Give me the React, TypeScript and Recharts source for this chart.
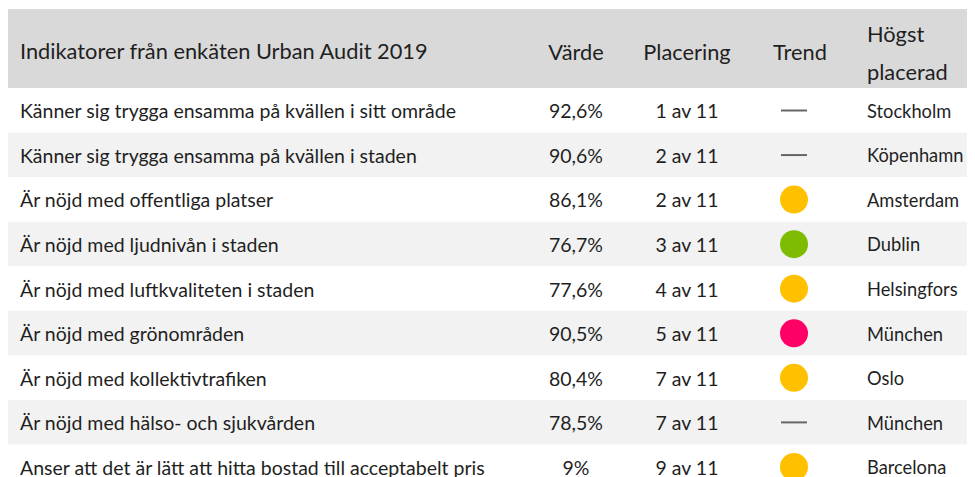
import React from 'react';
import { BarChart, Bar, XAxis, YAxis, Cell } from 'recharts';

const indikatorer = [
  'Känner sig trygga ensamma på kvällen i sitt område',
  'Känner sig trygga ensamma på kvällen i staden',
  'Är nöjd med offentliga platser',
  'Är nöjd med ljudnivån i staden',
  'Är nöjd med luftkvaliteten i staden',
  'Är nöjd med grönområden',
  'Är nöjd med kollektivtrafiken',
  'Är nöjd med hälso- och sjukvården',
  'Anser att det är lätt att hitta bostad till acceptabelt pris',
];
const varden = [92.6, 90.6, 86.1, 76.7, 77.6, 90.5, 80.4, 78.5, 9];
const placeringar = [1, 2, 2, 3, 4, 5, 7, 7, 9];
const antalStader = 11;
const trender = ['oforandrad', 'oforandrad', 'gul', 'gron', 'gul', 'rod', 'gul', 'oforandrad', 'gul'];
const hogstPlacerad = ['Stockholm', 'Köpenhamn', 'Amsterdam', 'Dublin', 'Helsingfors', 'München', 'Oslo', 'München', 'Barcelona'];

const rubriker = ['Indikatorer från enkäten Urban Audit 2019', 'Värde', 'Placering', 'Trend', 'Högst', 'placerad'];

const trendFarg: Record<string, string> = {
  gul: '#ffc000',
  gron: '#7dbc00',
  rod: '#ff0066',
};

const data = indikatorer.map((indikator, i) => ({
  indikator,
  varde: varden[i],
  placering: placeringar[i],
  trend: trender[i],
  hogst: hogstPlacerad[i],
}));

const FONT = 'Lato, "Noto Sans", sans-serif';
const TEXT = '#1f1f1f';
const COL = { namn: 12, varde: 568, placering: 679, trend: 786, hogst: 859 };

const formatVarde = (v: number) => String(v).replace('.', ',') + '%';

const RowShape = (props: any) => {
  const { x, y, width, height, payload, index } = props;
  const cy = y + height / 2;
  const fs = 19.5;
  const dy = '0.4em';
  return (
    <g>
      <rect x={x} y={y} width={width} height={height} fill={index % 2 === 0 ? '#ffffff' : '#f2f2f2'} />
      <text x={COL.namn} y={cy} dy={dy} fontSize={fs} fill={TEXT} fontFamily={FONT}>
        {payload.indikator}
      </text>
      <text x={COL.varde} y={cy} dy={dy} fontSize={fs} fill={TEXT} fontFamily={FONT} textAnchor="middle">
        {formatVarde(payload.varde)}
      </text>
      <text x={COL.placering} y={cy} dy={dy} fontSize={fs} fill={TEXT} fontFamily={FONT} textAnchor="middle">
        {`${payload.placering} av ${antalStader}`}
      </text>
      {payload.trend === 'oforandrad' ? (
        <line x1={COL.trend - 13} x2={COL.trend + 13} y1={cy} y2={cy} stroke="#666666" strokeWidth={2} />
      ) : (
        <circle cx={COL.trend} cy={cy} r={14} fill={trendFarg[payload.trend]} />
      )}
      <text x={COL.hogst} y={cy} dy={dy} fontSize={18.3} fill={TEXT} fontFamily={FONT}>
        {payload.hogst}
      </text>
    </g>
  );
};

export default function App() {
  const headStyle: React.CSSProperties = {
    position: 'absolute',
    fontSize: 21.8,
    color: TEXT,
    lineHeight: '24px',
    whiteSpace: 'nowrap',
  };
  return (
    <div style={{ width: 967, fontFamily: FONT, position: 'relative' }}>
      <div style={{ height: 79, marginTop: 1, background: '#d9d9d9', position: 'relative' }}>
        <span style={{ ...headStyle, left: COL.namn, top: 30 }}>{rubriker[0]}</span>
        <span style={{ ...headStyle, left: COL.varde, top: 31, transform: 'translateX(-50%)' }}>{rubriker[1]}</span>
        <span style={{ ...headStyle, left: COL.placering, top: 31, transform: 'translateX(-50%)' }}>{rubriker[2]}</span>
        <span style={{ ...headStyle, left: 792, top: 31, transform: 'translateX(-50%)' }}>{rubriker[3]}</span>
        <span style={{ ...headStyle, left: COL.hogst, top: 13 }}>{rubriker[4]}</span>
        <span style={{ ...headStyle, left: COL.hogst, top: 51 }}>{rubriker[5]}</span>
      </div>
      <BarChart
        layout="vertical"
        width={967}
        height={401}
        data={data}
        margin={{ top: 0, right: 0, bottom: 0, left: 0 }}
        barCategoryGap={0}
      >
        <XAxis type="number" hide domain={[0, 1]} />
        <YAxis type="category" dataKey="indikator" hide />
        <Bar dataKey={() => 1} isAnimationActive={false} shape={RowShape}>
          {data.map((_, i) => (
            <Cell key={i} />
          ))}
        </Bar>
      </BarChart>
    </div>
  );
}
